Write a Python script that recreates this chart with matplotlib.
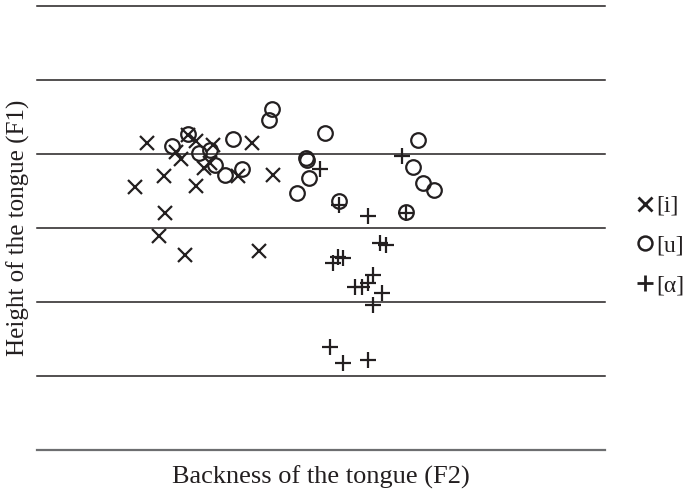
import matplotlib
matplotlib.use("Agg")
import matplotlib.pyplot as plt
from matplotlib.lines import Line2D

# Backness (F2, arbitrary 0-100 scale) and height (F1, arbitrary 0-6 scale)
i_x = [19.4, 17.3, 22.4, 22.5, 21.5, 26.1, 24.5, 25.4, 26.6, 28.0, 29.4, 30.5,
       31.0, 35.4, 37.9, 41.5, 28.0, 39.1]
i_y = [4.15, 3.55, 3.70, 3.20, 2.89, 2.64, 4.03, 3.93, 4.26, 4.18, 3.81, 3.88,
       4.12, 3.70, 4.15, 3.72, 3.57, 2.69]

u_x = [23.8, 26.6, 28.5, 30.5, 31.3, 33.1, 34.5, 36.1, 40.8, 41.4, 45.8, 47.4,
       47.5, 47.9, 50.7, 53.2, 65.0, 66.2, 67.1, 68.0, 69.9]
u_y = [4.11, 4.27, 4.01, 4.05, 3.85, 3.72, 4.20, 3.80, 4.46, 4.61, 3.47, 3.95,
       3.92, 3.68, 4.28, 3.36, 3.22, 3.82, 4.19, 3.61, 3.51]

a_x = [49.8, 53.2, 58.3, 64.3, 65.0, 60.4, 61.4, 52.1, 53.0, 53.9, 56.0, 57.2,
       58.3, 59.2, 60.7, 59.2, 51.6, 53.9, 58.3]
a_y = [3.80, 3.31, 3.16, 3.97, 3.20, 2.80, 2.77, 2.53, 2.61, 2.59, 2.20, 2.20,
       2.26, 2.36, 2.12, 1.96, 1.39, 1.18, 1.22]

labels = ["[i]", "[u]", "[\u03b1]"]
y_levels = [0, 1, 2, 3, 4, 5, 6]

plt.rcParams['font.family'] = ['Liberation Serif', 'DejaVu Serif']
ink = "#231f20"

fig = plt.figure(figsize=(6.89, 4.90), dpi=100)
ax = fig.add_axes([37/689, 40/490, 568/689, 444/490])
ax.set_xlim(0, 100)
ax.set_ylim(0, 6)

for v in y_levels:
    ax.axhline(v, color=("#6d6e70" if v == 0 else ink),
               lw=(1.6 if v == 0 else 1.1), clip_on=False, zorder=1)

ms = 10
mew = 1.6
ax.plot(i_x, i_y, ls='none', marker='x', ms=ms * 0.95, mew=mew, color=ink, zorder=3)
ax.plot(u_x, u_y, ls='none', marker='o', ms=ms * 1.05, mew=mew, mfc='none', mec=ink, zorder=3)
ax.plot(a_x, a_y, ls='none', marker='+', ms=ms * 1.1, mew=mew, color=ink, zorder=3)

for s in ax.spines.values():
    s.set_visible(False)
ax.set_xticks([])
ax.set_yticks([])

ax.set_xlabel("Backness of the tongue (F2)", fontsize=19, color=ink, labelpad=11)
ax.set_ylabel("Height of the tongue (F1)", fontsize=18, color=ink, labelpad=5)

handles = [
    Line2D([], [], ls='none', marker='x', ms=10, mew=2.0, color=ink),
    Line2D([], [], ls='none', marker='o', ms=10, mew=1.8, mfc='none', mec=ink),
    Line2D([], [], ls='none', marker='+', ms=11, mew=2.0, color=ink),
]
ax.legend(handles, labels, loc='center left', bbox_to_anchor=(1.039, 0.46),
          frameon=False, fontsize=17, handlelength=0.7, handletextpad=0.15,
          labelspacing=0.77, borderaxespad=0.0, labelcolor=ink)

fig.savefig("out.png", dpi=100)
